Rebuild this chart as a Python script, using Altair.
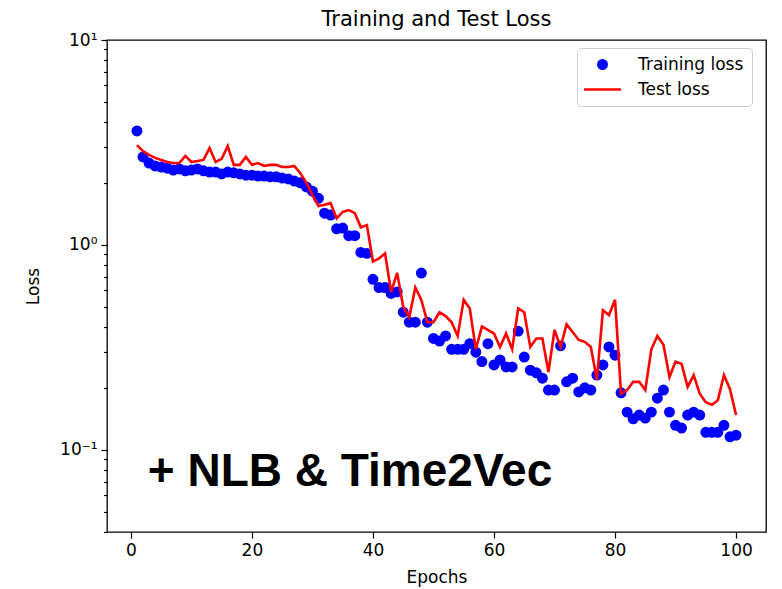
import altair as alt
import pandas as pd

epochs = list(range(1, 101))

train_loss = [
    3.60, 2.69, 2.51, 2.43, 2.40, 2.37, 2.32, 2.35, 2.30, 2.32,
    2.35, 2.30, 2.27, 2.27, 2.22, 2.27, 2.25, 2.22, 2.19, 2.19,
    2.17, 2.17, 2.15, 2.15, 2.12, 2.10, 2.05, 2.01, 1.92, 1.83,
    1.69, 1.43, 1.40, 1.20, 1.21, 1.11, 1.11, 0.92, 0.91, 0.68,
    0.62, 0.62, 0.58, 0.59, 0.47, 0.42, 0.42, 0.73, 0.42, 0.35,
    0.34, 0.36, 0.31, 0.31, 0.31, 0.33, 0.30, 0.27, 0.33, 0.26,
    0.275, 0.254, 0.254, 0.38, 0.284, 0.245, 0.238, 0.224, 0.196, 0.196,
    0.322, 0.215, 0.224, 0.192, 0.201, 0.196, 0.232, 0.26, 0.318, 0.29,
    0.19, 0.153, 0.142, 0.148, 0.143, 0.153, 0.179, 0.196, 0.153, 0.132,
    0.128, 0.148, 0.153, 0.148, 0.122, 0.122, 0.122, 0.132, 0.116, 0.118,
]

test_loss = [
    3.07, 2.87, 2.75, 2.66, 2.60, 2.54, 2.51, 2.51, 2.72, 2.54,
    2.57, 2.60, 2.97, 2.54, 2.63, 3.04, 2.46, 2.46, 2.69, 2.46,
    2.51, 2.43, 2.46, 2.46, 2.40, 2.40, 2.43, 2.24, 2.01, 1.75,
    1.55, 1.57, 1.60, 1.35, 1.45, 1.48, 1.43, 1.22, 1.25, 0.83,
    0.86, 0.91, 0.59, 0.73, 0.50, 0.445, 0.62, 0.54, 0.42, 0.42,
    0.47, 0.45, 0.42, 0.36, 0.54, 0.49, 0.31, 0.40, 0.385, 0.37,
    0.318, 0.37, 0.31, 0.49, 0.47, 0.318, 0.35, 0.35, 0.24, 0.385,
    0.318, 0.41, 0.376, 0.344, 0.337, 0.318, 0.22, 0.48, 0.455, 0.54,
    0.188, 0.196, 0.215, 0.215, 0.196, 0.31, 0.36, 0.326, 0.227, 0.27,
    0.263, 0.203, 0.232, 0.188, 0.171, 0.166, 0.175, 0.232, 0.198, 0.148,
]

series_names = ["Training loss", "Test loss"]
series_colors = ["#0000ff", "#ff0000"]

annotation_text = ["+ NLB & Time2Vec"]
annotation_x = [2.8]
annotation_y = [0.078]

x_ticks = [0, 20, 40, 60, 80, 100]
y_ticks = [0.04, 0.05, 0.06, 0.07, 0.08, 0.09,
           0.1, 0.2, 0.3, 0.4, 0.5, 0.6, 0.7, 0.8, 0.9,
           1, 2, 3, 4, 5, 6, 7, 8, 9, 10]

train_df = pd.DataFrame({"epoch": epochs, "loss": train_loss, "series": series_names[0]})
test_df = pd.DataFrame({"epoch": epochs, "loss": test_loss, "series": series_names[1]})
ann_df = pd.DataFrame({"x": annotation_x, "y": annotation_y, "text": annotation_text})

FONT = "DejaVu Sans"

x_scale = alt.Scale(domain=[-3.95, 104.95], nice=False, zero=False)
y_scale = alt.Scale(type="log", domain=[0.0398, 10], nice=False)

is_major = "abs(log(datum.value)/LN10 - round(log(datum.value)/LN10)) < 1e-6"

x_axis = alt.Axis(
    title="Epochs", values=x_ticks, grid=False, domain=False,
    tickSize=6, tickWidth=1.2, tickColor="black",
    labelFontSize=17, labelFont=FONT, labelColor="black", labelPadding=4,
    titleFontSize=17, titleFont=FONT, titleFontWeight="normal", titleColor="black",
    titleY=45, titleBaseline="middle",
)

y_axis = alt.Axis(
    title="Loss", values=y_ticks, grid=False, domain=False,
    tickSize={"condition": {"test": is_major, "value": 6}, "value": 3.5},
    tickWidth=1.2, tickColor="black",
    labelExpr="datum.value == 10 ? '10¹' : (datum.value == 1 ? '10⁰' : (abs(datum.value - 0.1) < 1e-9 ? '10⁻¹' : ''))",
    labelFontSize=17, labelFont=FONT, labelColor="black", labelPadding=4,
    labelOverlap=False,
    titleFontSize=17, titleFont=FONT, titleFontWeight="normal", titleColor="black",
    titleX=-74, titleY=246, titleBaseline="middle",
)

legend = alt.Legend(
    title=None, orient="none", legendX=470, legendY=8,
    labelFont=FONT, labelFontSize=17, labelColor="black",
    symbolStrokeWidth=2.6, symbolSize=70, symbolOffset=9,
    padding=8, labelOffset=27, rowPadding=6,
    strokeColor="#cccccc", fillColor="white", cornerRadius=4,
)

points = alt.Chart(train_df).mark_point(filled=True, size=70, strokeWidth=2.6, opacity=1).encode(
    x=alt.X("epoch:Q", scale=x_scale, axis=x_axis),
    y=alt.Y("loss:Q", scale=y_scale, axis=y_axis),
    fill=alt.Fill("series:N", scale=alt.Scale(domain=series_names, range=series_colors), legend=legend),
    stroke=alt.Stroke("series:N", scale=alt.Scale(domain=series_names, range=series_colors), legend=legend),
    shape=alt.Shape("series:N", scale=alt.Scale(domain=series_names, range=["circle", "M-4.4,0H4.4"]), legend=legend),
)

line = alt.Chart(test_df).mark_line(color="#ff0000", strokeWidth=2.6).encode(
    x=alt.X("epoch:Q", scale=x_scale),
    y=alt.Y("loss:Q", scale=y_scale),
)

ann = alt.Chart(ann_df).mark_text(
    font="Liberation Sans", fontWeight="bold", fontSize=46, align="left", baseline="middle", color="black"
).encode(
    x=alt.X("x:Q", scale=x_scale),
    y=alt.Y("y:Q", scale=y_scale),
    text="text:N",
)

chart = alt.layer(points, line, ann).properties(
    width=659, height=492,
    title=alt.TitleParams("Training and Test Loss", font=FONT, fontSize=21, fontWeight="normal",
                          color="black", anchor="middle", offset=1),
    autosize=alt.AutoSizeParams(type="none"),
    padding={"left": 107, "top": 40, "right": 16, "bottom": 57},
    background="white",
).configure_view(
    stroke="black", strokeWidth=1.3
)

chart.save("out.html", embed_options={"renderer": "svg", "actions": False})
